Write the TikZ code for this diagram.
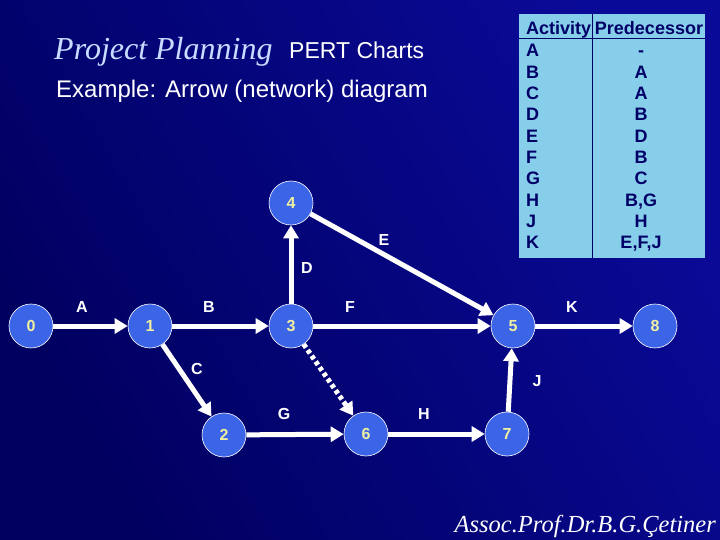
\documentclass[tikz,border=0pt]{standalone}
\usepackage{fontspec}
\setmainfont{Liberation Serif}
\setsansfont{Liberation Sans}
\usetikzlibrary{arrows.meta}
\definecolor{bgA}{HTML}{000060}
\definecolor{bgB}{HTML}{0A0A98}
\definecolor{nodefill}{HTML}{3C64E6}
\definecolor{numcol}{HTML}{F0F0A0}
\definecolor{tabfill}{HTML}{87CEEB}
\definecolor{tabtext}{HTML}{000066}
\definecolor{titlecol}{HTML}{C8DCFF}
\begin{document}
\begin{tikzpicture}[x=1pt,y=-1pt,
  ev/.style={circle,fill=nodefill,draw=white,line width=0.6pt,minimum size=44pt,inner sep=0pt,text=numcol,font=\sffamily\bfseries\fontsize{16}{16}\selectfont},
  act/.style={draw=white,line width=5pt,-{Triangle[length=13pt,width=15pt]}},
  dum/.style={draw=white,line width=5pt,dash pattern=on 4pt off 3pt,-{Triangle[length=13pt,width=15pt]}},
  lab/.style={text=white,font=\sffamily\bfseries\fontsize{16}{16}\selectfont},
  tt/.style={text=tabtext,font=\sffamily\bfseries\fontsize{18}{18}\selectfont,inner sep=0pt,anchor=base}]
\shade[left color=bgA,right color=bgB,shading angle=120] (0,0) rectangle (720,540);
\useasboundingbox (0,0) rectangle (720,540);
\node[anchor=base west,text=titlecol,inner sep=0pt] (t1) at (54,60) {\fontsize{32}{32}\selectfont\itshape Project Planning};
\node[anchor=base west,text=white,inner sep=0pt] (t2) at (289,59) {\sffamily\fontsize{23}{23}\selectfont PERT Charts};
\node[anchor=base west,text=white,inner sep=0pt] (t3) at (56,98) {\sffamily\fontsize{24}{24}\selectfont Example: Arrow (network) diagram};
\node[anchor=base east,text=white,inner sep=0pt] (ft) at (716,532) {\fontsize{24.5}{24.5}\selectfont\itshape Assoc.Prof.Dr.B.G.Çetiner};
% table
\fill[tabfill] (519,14) rectangle (705,258);
\draw[tabtext,line width=0.8pt] (592,14) -- (592,258) (519,38) -- (705,38);
\node[tt,anchor=base west] (h1) at (526,35) {Activity};
\node[tt] (h2) at (649,35) {Predecessor};
\foreach \a/\p [count=\i] in {A/-,B/A,C/A,D/B,E/D,F/B,G/C,H/{B,G},J/H,K/{E,F,J}}{
  \node[tt,anchor=base west] (ra\i) at (526,{35.7+21.3*\i}) {\a};
  \node[tt] (rp\i) at (641,{35.7+21.3*\i}) {\p};
}
% nodes
\node[ev] (n0) at (31,326) {0};
\node[ev] (n1) at (150,326) {1};
\node[ev] (n3) at (291,326) {3};
\node[ev] (n4) at (291,203) {4};
\node[ev] (n2) at (224,435) {2};
\node[ev] (n6) at (366,434) {6};
\node[ev] (n7) at (507,434) {7};
\node[ev] (n5) at (513,326) {5};
\node[ev] (n8) at (655,326) {8};
\draw[act] (n0) -- (n1);
\draw[act] (n1) -- (n3);
\draw[act] (n3) -- (n4);
\draw[act] (n3) -- (n5);
\draw[act] (n4) -- (n5);
\draw[act] (n1) -- (n2);
\draw[act] (n2) -- (n6);
\draw[dum] (n3) -- (n6);
\draw[act] (n6) -- (n7);
\draw[act] (n7) -- (n5);
\draw[act] (n5) -- (n8);
\node[lab] (lA) at (82,307) {A};
\node[lab] (lB) at (209,307) {B};
\node[lab] (lF) at (350,307) {F};
\node[lab] (lK) at (572,307) {K};
\node[lab] (lD) at (307,268) {D};
\node[lab] (lE) at (384,240) {E};
\node[lab] (lC) at (197,369) {C};
\node[lab] (lG) at (284,414) {G};
\node[lab] (lH) at (424,414) {H};
\node[lab] (lJ) at (537,381) {J};
\end{tikzpicture}
\end{document}
